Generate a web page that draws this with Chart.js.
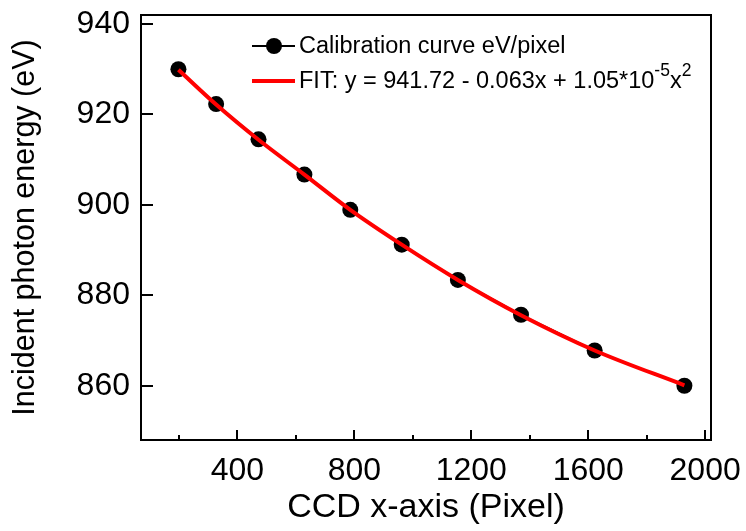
<!DOCTYPE html>
<html>
<head>
<meta charset="utf-8">
<script src="https://cdn.jsdelivr.net/npm/chart.js@4.4.1/dist/chart.umd.min.js"></script>
<style>
  body { margin: 0; background: #fff; }
  #wrap { position: relative; width: 746px; height: 531px; }
  #legenda { position: absolute; left: 252px; top: 28px; font-family: "Liberation Sans", Arial, sans-serif; font-size: 23.5px; color: #000; }
  .linha { display: flex; align-items: center; height: 35px; white-space: nowrap; }
  .marca { position: relative; width: 43px; height: 35px; margin-right: 4px; }
  .traco { position: absolute; left: 0; right: 0; top: 50%; }
  .bola { position: absolute; left: 50%; top: 50%; width: 16px; height: 16px; margin: -8px 0 0 -8px; border-radius: 50%; background: #000; }
  .sup { font-size: 17.5px; position: relative; top: -12px; }
</style>
</head>
<body>
<div id="wrap">
  <canvas id="grafico" width="746" height="531"></canvas>
  <div id="legenda"></div>
</div>
<script>
// pontos de calibracao
const calX = [198, 327, 472, 629, 786, 962, 1154, 1370, 1622, 1929];
const calY = [930.0, 922.3, 914.5, 906.7, 898.9, 891.2, 883.4, 875.7, 867.8, 860.0];

// curva do ajuste (lida sobre a linha vermelha)
const fitX = [198, 327, 472, 629, 786, 962, 1154, 1370, 1622, 1929];
const fitY = [929.9, 922.2, 914.4, 906.7, 898.9, 891.2, 883.4, 875.6, 867.8, 860.1];

const xTicks = [400, 800, 1200, 1600, 2000];
const xMinorTicks = [200, 600, 1000, 1400, 1800];
const yTicks = [860, 880, 900, 920, 940];

const labelCal = "Calibration curve eV/pixel";
const labelFit = "FIT: y = 941.72 - 0.063x + 1.05*10^-5x^2";
const labelFitHtml = 'FIT: y = 941.72 - 0.063x + 1.05*10<span class="sup">-5</span>x<span class="sup">2</span>';

const fonte = "'Liberation Sans', Arial, sans-serif";

// moldura e ticks para dentro
const moldura = {
    id: 'moldura',
    afterDatasetsDraw(chart) {
        const {ctx, chartArea: a, scales: {x, y}} = chart;
        ctx.save();
        ctx.strokeStyle = '#000';
        ctx.lineWidth = 2;
        ctx.beginPath();
        xTicks.forEach(v => {
            let px = Math.round(x.getPixelForValue(v));
            ctx.moveTo(px, a.bottom); ctx.lineTo(px, a.bottom - 10);
        });
        xMinorTicks.forEach(v => {
            let px = Math.round(x.getPixelForValue(v));
            ctx.moveTo(px, a.bottom); ctx.lineTo(px, a.bottom - 5);
        });
        yTicks.forEach(v => {
            let py = Math.round(y.getPixelForValue(v));
            ctx.moveTo(a.left, py); ctx.lineTo(a.left + 12, py);
        });
        ctx.stroke();
        ctx.strokeRect(a.left, a.top, a.right - a.left, a.bottom - a.top);
        ctx.restore();
    }
};

const ctx = document.getElementById('grafico').getContext('2d');
const myChart = new Chart(ctx, {
    type: 'scatter',
    data: {
        datasets: [{
            label: labelFit,
            data: fitX.map((v, i) => ({x: v, y: fitY[i]})),
            showLine: true,
            borderColor: '#ff0000',
            borderWidth: 4,
            pointRadius: 0,
            cubicInterpolationMode: 'monotone',
            order: 0
        }, {
            label: labelCal,
            data: calX.map((v, i) => ({x: v, y: calY[i]})),
            showLine: true,
            borderColor: '#000',
            borderWidth: 1.5,
            backgroundColor: '#000',
            pointRadius: 8,
            pointBorderWidth: 0,
            order: 1
        }]
    },
    options: {
        responsive: false,
        animation: false,
        layout: { padding: { top: 15, right: 35, left: 0, bottom: 0 } },
        plugins: { legend: { display: false }, tooltip: { enabled: false } },
        scales: {
            x: {
                type: 'linear',
                min: 70,
                max: 2020,
                afterBuildTicks: s => { s.ticks = xTicks.map(v => ({value: v})); },
                afterFit: s => { s.height = 91; s.paddingLeft = 0; s.paddingRight = 0; },
                grid: { display: false, drawTicks: false },
                border: { display: false },
                ticks: { color: '#000', font: { family: fonte, size: 32 }, padding: 12, maxRotation: 0, callback: v => String(v) },
                title: { display: true, text: 'CCD x-axis (Pixel)', color: '#000', font: { family: fonte, size: 34 }, padding: { top: 0, bottom: 3 } }
            },
            y: {
                type: 'linear',
                min: 848,
                max: 942,
                afterBuildTicks: s => { s.ticks = yTicks.map(v => ({value: v})); },
                afterFit: s => { s.width = 141; s.paddingTop = 0; s.paddingBottom = 0; },
                grid: { display: false, drawTicks: false },
                border: { display: false },
                ticks: { color: '#000', font: { family: fonte, size: 32 }, padding: 11, callback: v => String(v) },
                title: { display: true, text: 'Incident photon energy (eV)', color: '#000', font: { family: fonte, size: 30.5 }, padding: { top: 7, bottom: 0 } }
            }
        }
    },
    plugins: [moldura]
});

// legenda em html para ter os expoentes
function montarLegenda() {
    let legenda = document.getElementById('legenda');
    legenda.innerHTML =
        '<div class="linha"><div class="marca"><div class="traco" style="height:2px;margin-top:-1px;background:#000"></div><div class="bola"></div></div><span>' + labelCal + '</span></div>' +
        '<div class="linha"><div class="marca"><div class="traco" style="height:4px;margin-top:-2px;background:#ff0000"></div></div><span>' + labelFitHtml + '</span></div>';
}
montarLegenda();
</script>
</body>
</html>
